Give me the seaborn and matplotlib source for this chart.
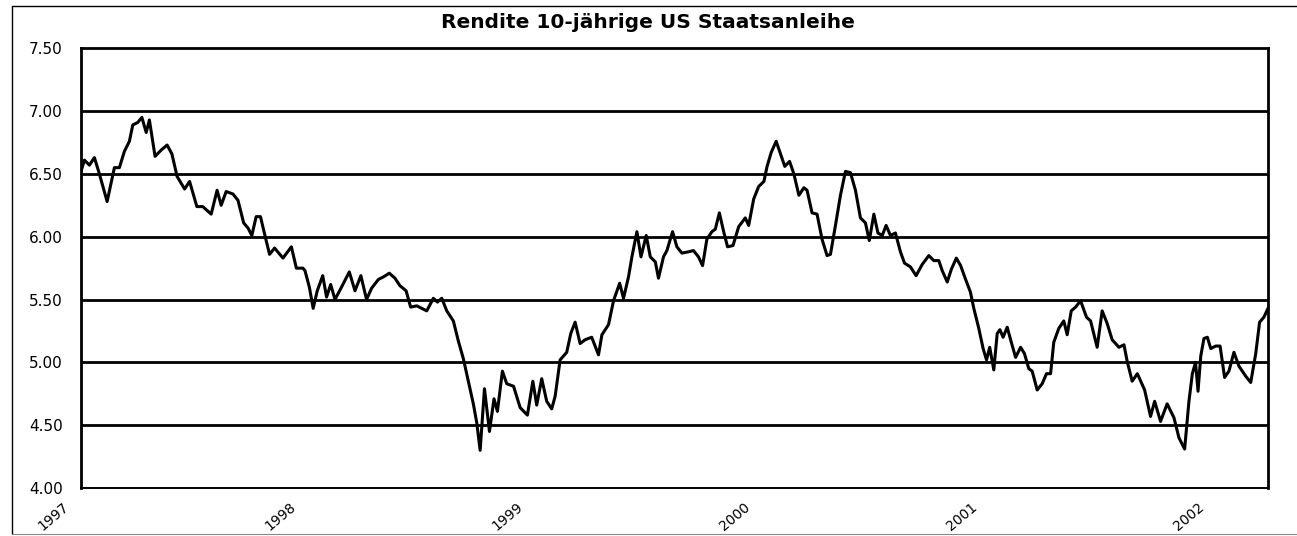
import matplotlib
matplotlib.use("Agg")
import matplotlib.pyplot as plt
from matplotlib.lines import Line2D
import seaborn as sns
import pandas as pd

title = "Rendite 10-jährige US Staatsanleihe"
year_ticks = [1997, 1998, 1999, 2000, 2001, 2002]
y_ticks = [4.00, 4.50, 5.00, 5.50, 6.00, 6.50, 7.00, 7.50]

# time in decimal years
t = [
    1996.991, 1997.006, 1997.028, 1997.050, 1997.072, 1997.106, 1997.138, 1997.160,
    1997.182, 1997.204, 1997.219, 1997.241, 1997.259, 1997.278, 1997.292, 1997.317,
    1997.344, 1997.370, 1997.391, 1997.414, 1997.447, 1997.469, 1997.501, 1997.527,
    1997.564, 1997.590, 1997.608, 1997.630, 1997.660, 1997.682, 1997.707, 1997.726,
    1997.743, 1997.762, 1997.781, 1997.802, 1997.821, 1997.843, 1997.880, 1997.917,
    1997.939, 1997.968,
    1997.977, 1997.996, 1998.013, 1998.031, 1998.055, 1998.072, 1998.090, 1998.109,
    1998.138, 1998.172, 1998.197, 1998.223, 1998.248, 1998.270, 1998.300, 1998.322,
    1998.348, 1998.373, 1998.395, 1998.422, 1998.442, 1998.469, 1998.513, 1998.542,
    1998.560, 1998.579, 1998.601, 1998.630, 1998.652, 1998.674, 1998.696, 1998.718,
    1998.733, 1998.748, 1998.767, 1998.789, 1998.809, 1998.824, 1998.846, 1998.865,
    1998.895, 1998.924,
    1998.956, 1998.980, 1998.997, 1999.019, 1999.041, 1999.063, 1999.078, 1999.100,
    1999.129, 1999.147, 1999.166, 1999.188, 1999.210, 1999.239, 1999.269, 1999.284,
    1999.313, 1999.335, 1999.362, 1999.379, 1999.401, 1999.416, 1999.438, 1999.456,
    1999.479, 1999.497, 1999.519, 1999.533, 1999.555, 1999.570, 1999.595, 1999.614,
    1999.636, 1999.665, 1999.687, 1999.709, 1999.727, 1999.746, 1999.768, 1999.783,
    1999.801, 1999.820, 1999.837, 1999.861, 1999.886, 1999.915,
    1999.930, 1999.952, 1999.974, 1999.997, 2000.011, 2000.029, 2000.051, 2000.070,
    2000.089, 2000.110, 2000.129, 2000.151, 2000.173, 2000.187, 2000.209, 2000.231,
    2000.253, 2000.275, 2000.290, 2000.312, 2000.334, 2000.356, 2000.378, 2000.400,
    2000.422, 2000.444, 2000.461, 2000.481, 2000.499, 2000.518, 2000.535, 2000.554,
    2000.576, 2000.598, 2000.616, 2000.642, 2000.667, 2000.694, 2000.723, 2000.745,
    2000.767, 2000.782, 2000.804, 2000.822, 2000.844, 2000.863, 2000.885,
    2000.906, 2000.921, 2000.943, 2000.962, 2000.977, 2000.991, 2001.009, 2001.024,
    2001.036, 2001.050, 2001.068, 2001.086, 2001.105, 2001.127, 2001.144, 2001.163,
    2001.178, 2001.200, 2001.222, 2001.241, 2001.259, 2001.273, 2001.295, 2001.317,
    2001.332, 2001.350, 2001.369, 2001.391, 2001.417, 2001.435, 2001.464, 2001.486,
    2001.508, 2001.530, 2001.560, 2001.582, 2001.596, 2001.618, 2001.641, 2001.673,
    2001.699, 2001.717, 2001.743, 2001.772, 2001.802, 2001.824, 2001.849, 2001.868,
    2001.883, 2001.897, 2001.908, 2001.920, 2001.934, 2001.949, 2001.964, 2001.986,
    2002.005, 2002.025, 2002.044, 2002.066, 2002.088, 2002.118, 2002.140, 2002.162,
    2002.179, 2002.198, 2002.216,
]

rendite = [
    6.52, 6.61, 6.57, 6.63, 6.50, 6.28, 6.55, 6.55,
    6.68, 6.76, 6.89, 6.91, 6.95, 6.83, 6.93, 6.64,
    6.69, 6.73, 6.66, 6.48, 6.38, 6.44, 6.24, 6.24,
    6.18, 6.37, 6.25, 6.36, 6.34, 6.29, 6.11, 6.07,
    6.01, 6.16, 6.16, 6.00, 5.86, 5.91, 5.83, 5.92,
    5.75, 5.75,
    5.73, 5.60, 5.43, 5.57, 5.69, 5.52, 5.62, 5.50,
    5.60, 5.72, 5.57, 5.69, 5.50, 5.59, 5.66, 5.68,
    5.71, 5.67, 5.61, 5.57, 5.44, 5.45, 5.41, 5.51,
    5.48, 5.51, 5.41, 5.33, 5.17, 5.03, 4.85, 4.67,
    4.52, 4.30, 4.79, 4.45, 4.71, 4.61, 4.93, 4.83,
    4.81, 4.64,
    4.58, 4.85, 4.66, 4.87, 4.69, 4.63, 4.73, 5.02,
    5.08, 5.23, 5.32, 5.15, 5.18, 5.20, 5.06, 5.22,
    5.30, 5.49, 5.63, 5.51, 5.68, 5.84, 6.04, 5.84,
    6.01, 5.84, 5.80, 5.67, 5.84, 5.89, 6.04, 5.92,
    5.87, 5.88, 5.89, 5.84, 5.77, 5.98, 6.04, 6.06,
    6.19, 6.04, 5.92, 5.93, 6.08, 6.15,
    6.09, 6.30, 6.40, 6.44, 6.56, 6.67, 6.76, 6.66,
    6.56, 6.60, 6.50, 6.33, 6.39, 6.37, 6.19, 6.18,
    5.98, 5.85, 5.86, 6.09, 6.33, 6.52, 6.51, 6.37,
    6.15, 6.11, 5.97, 6.18, 6.03, 6.01, 6.09, 6.01,
    6.03, 5.88, 5.79, 5.76, 5.69, 5.78, 5.85, 5.81,
    5.81, 5.73, 5.64, 5.74, 5.83, 5.77, 5.66,
    5.56, 5.43, 5.27, 5.11, 5.02, 5.12, 4.94, 5.23,
    5.26, 5.20, 5.28, 5.16, 5.04, 5.12, 5.07, 4.95,
    4.93, 4.78, 4.83, 4.91, 4.91, 5.16, 5.27, 5.33,
    5.22, 5.41, 5.44, 5.49, 5.36, 5.33, 5.12, 5.41,
    5.31, 5.18, 5.12, 5.14, 5.01, 4.85, 4.91, 4.78,
    4.57, 4.69, 4.53, 4.67, 4.56, 4.40, 4.31, 4.69,
    4.91, 5.00, 4.77, 5.05, 5.19, 5.20, 5.11, 5.13,
    5.13, 4.88, 4.93, 5.08, 4.97, 4.89, 4.84, 5.07,
    5.32, 5.36, 5.43,
]

df = pd.DataFrame({"Jahr": t, "Rendite": rendite})

sns.set_style("white")
plt.rcParams["font.family"] = ["DejaVu Sans"]

W, H = 1297, 536
fig = plt.figure(figsize=(W / 100, H / 100), dpi=100)
ax = fig.add_axes([81 / W, 1 - 488 / H, (1268 - 81) / W, (488 - 48.3) / H])

sns.lineplot(data=df, x="Jahr", y="Rendite", color="black", linewidth=2.2, ax=ax,
             zorder=3)

ax.set_xlim(t[0], t[-1])
ax.set_ylim(4.0, 7.5)
ax.set_yticks(y_ticks)
ax.set_yticklabels([f"{v:.2f}" for v in y_ticks], fontsize=11)
ax.set_xticks(year_ticks)
ax.set_xticklabels([])
for yr in year_ticks:
    ax.annotate(str(yr), xy=(yr, 0), xycoords=("data", "axes fraction"),
                xytext=(-12, -12), textcoords="offset pixels", rotation=40,
                ha="right", va="top", fontsize=10, color="black",
                annotation_clip=False)

ax.set_xlabel("")
ax.set_ylabel("")
ax.tick_params(axis="both", direction="out", length=4, width=1.2, color="black",
               labelcolor="black")
ax.tick_params(axis="y", pad=9)

for v in y_ticks[1:-1]:
    ax.axhline(v, color="black", linewidth=2.0, zorder=2)

for side in ["left", "top", "right"]:
    ax.spines[side].set_color("black")
    ax.spines[side].set_linewidth(2.0)
ax.spines["bottom"].set_color("black")
ax.spines["bottom"].set_linewidth(1.4)

fig.text(648 / W, 1 - 23 / H, title, ha="center", va="center",
         fontsize=14.5, fontweight="bold", color="black")

# outer chart frame
fig.add_artist(Line2D([12 / W, 1.0], [1 - 6 / H, 1 - 6 / H], transform=fig.transFigure,
                      color="black", linewidth=1.0))
fig.add_artist(Line2D([12 / W, 12 / W], [1 - 6 / H, 1 - 534 / H], transform=fig.transFigure,
                      color="black", linewidth=1.0))
fig.add_artist(Line2D([12 / W, 1.0], [1 - 534 / H, 1 - 534 / H], transform=fig.transFigure,
                      color="#888888", linewidth=0.8))

fig.savefig("out.png", dpi=100)
